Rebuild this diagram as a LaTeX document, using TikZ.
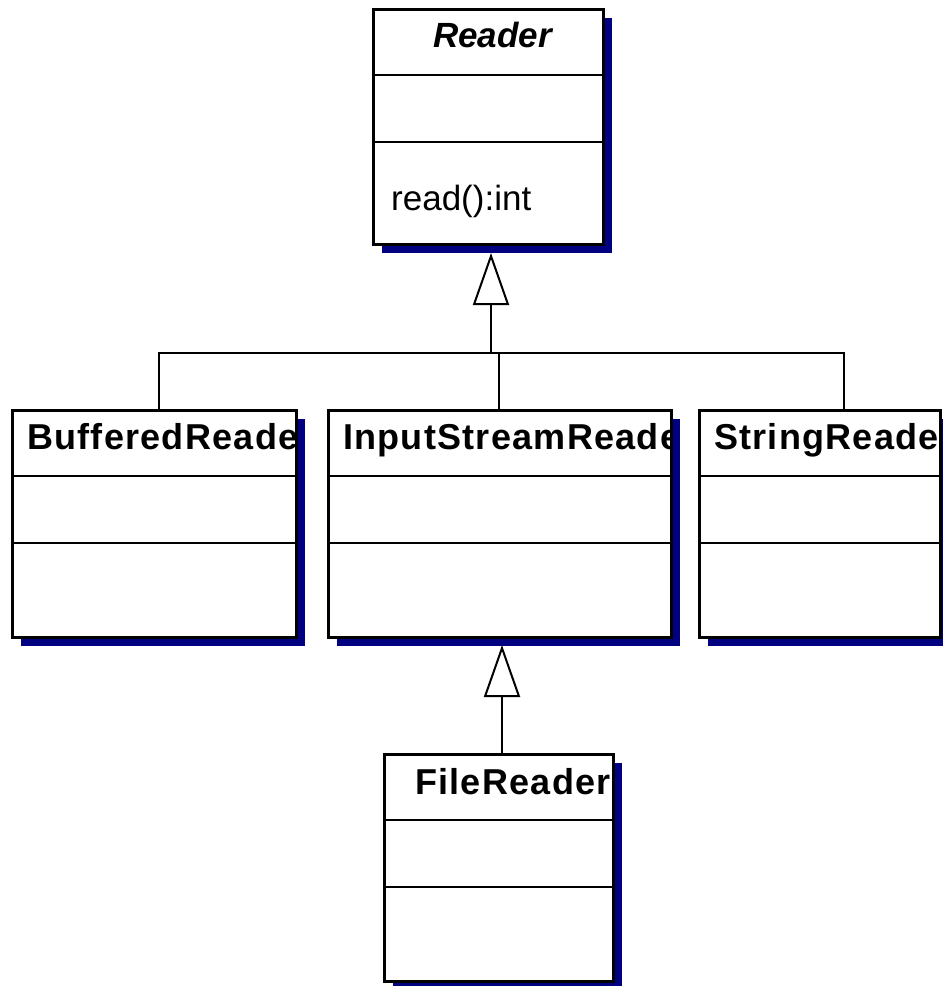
\documentclass[tikz,border=0pt]{standalone}
\usepackage{fontspec}
\setmainfont{Liberation Sans}
\newfontfamily\titlefont[LetterSpace=3.5]{Liberation Sans}
\usetikzlibrary{arrows.meta,shadows,calc}
\definecolor{shadowblue}{RGB}{0,0,128}
\tikzset{
  classbox/.style={rectangle, draw=black, line width=2.6pt, fill=white,
    inner sep=0pt, anchor=north west,
    drop shadow={shadow xshift=9pt, shadow yshift=-9pt, fill=shadowblue, opacity=1}},
  divider/.style={line width=2pt},
  classname/.style={anchor=base west, inner sep=0pt,
    font=\titlefont\fontsize{36}{40}\selectfont\bfseries},
  member/.style={anchor=base west, inner sep=0pt,
    font=\fontsize{35}{40}\selectfont},
  link/.style={line width=2pt},
  gen/.style={line width=2pt, -{Triangle[open, length=52pt, width=36pt, line width=2pt]}},
}
\begin{document}
\begin{tikzpicture}[x=1pt, y=-1pt]
  \useasboundingbox (0,0) rectangle (943,986);

  % class boxes
  \node[classbox, minimum width=230pt, minimum height=235pt] (reader) at (372,8) {};
  \node[classbox, minimum width=284pt, minimum height=227pt] (buffered) at (11,409) {};
  \node[classbox, minimum width=343pt, minimum height=227pt] (isr) at (327,409) {};
  \node[classbox, minimum width=241pt, minimum height=227pt] (string) at (698,409) {};
  \node[classbox, minimum width=229pt, minimum height=227pt] (file) at (383,753) {};

  % compartment dividers
  \foreach \b in {reader,buffered,isr,string,file} {
    \draw[divider] ($(\b.north west)+(0,67)$) -- ($(\b.north east)+(0,67)$);
    \draw[divider] ($(\b.north west)+(0,134)$) -- ($(\b.north east)+(0,134)$);
  }

  % class names
  \node[classname, font=\fontsize{35}{40}\selectfont\bfseries\itshape] (readerName)
    at ($(reader.north west)+(61,39)$) {Reader};
  \node[member] (readerOp) at ($(reader.north west)+(19,202)$) {read():int};

  \begin{scope}
    \clip (buffered.north west) rectangle ($(buffered.south east)+(-1.3,0)$);
    \node[classname] (bufferedName) at ($(buffered.north west)+(16,40)$) {BufferedReade};
  \end{scope}
  \begin{scope}
    \clip (isr.north west) rectangle ($(isr.south east)+(-1.3,0)$);
    \node[classname] (isrName) at ($(isr.north west)+(16,40)$) {InputStreamReade};
  \end{scope}
  \begin{scope}
    \clip (string.north west) rectangle ($(string.south east)+(-1.3,0)$);
    \node[classname] (stringName) at ($(string.north west)+(16,40)$) {StringReade};
  \end{scope}
  \begin{scope}
    \clip (file.north west) rectangle ($(file.south east)+(-1.3,0)$);
    \node[classname] (fileName) at ($(file.north west)+(32,41)$) {FileReader};
  \end{scope}

  % generalization to Reader
  \coordinate (readerTip) at (491,253);
  \coordinate (bus) at (491,353);
  \coordinate (bufferedTop) at (159,409);
  \coordinate (isrTop) at (499,409);
  \coordinate (stringTop) at (844,409);
  \draw[gen] (bus) -- (readerTip);
  \draw[link] (bufferedTop) |- (stringTop |- bus) -- (stringTop);
  \draw[link] (isrTop) -- (isrTop |- bus);

  % generalization to InputStreamReader
  \coordinate (isrTip) at (502,645);
  \coordinate (fileTop) at (502,753);
  \draw[gen] (fileTop) -- (isrTip);
\end{tikzpicture}
\end{document}
